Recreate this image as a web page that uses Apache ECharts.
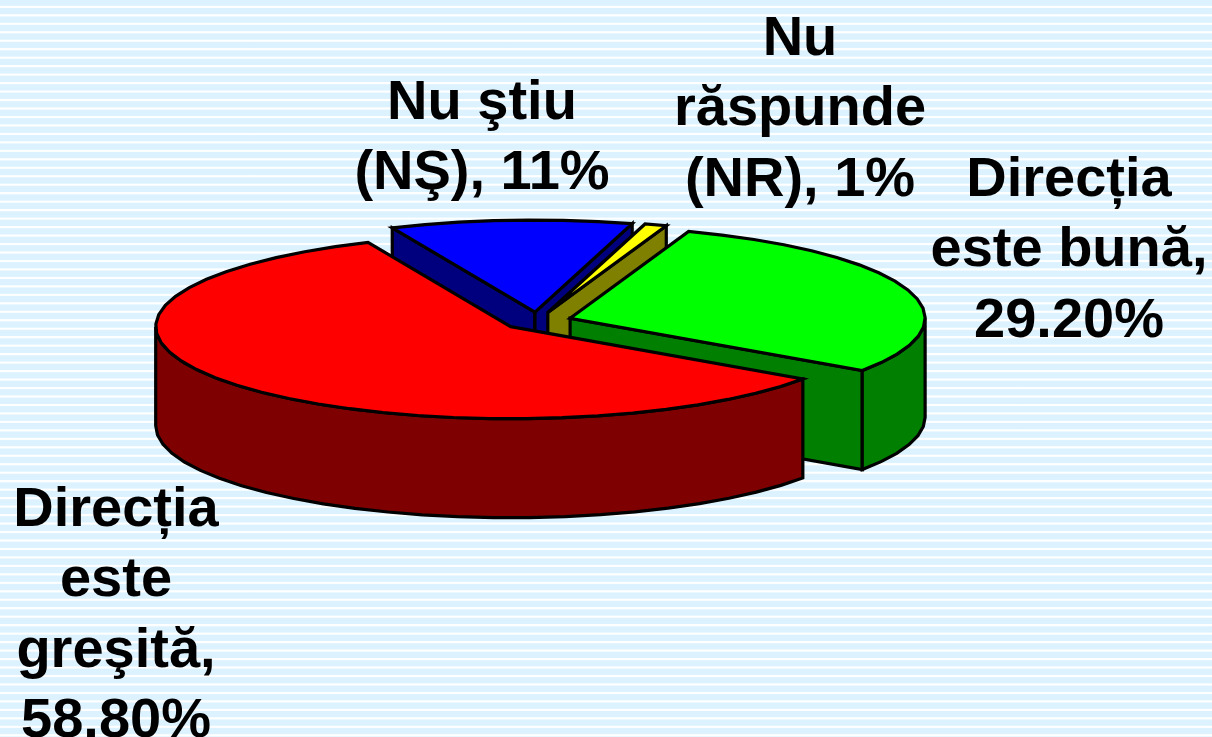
<!DOCTYPE html>
<html>
<head>
<meta charset="utf-8">
<style>
html,body{margin:0;padding:0;width:1212px;height:737px;overflow:hidden}
body{background-color:#DCF3FF;background-image:repeating-linear-gradient(180deg,#DCF3FF 0,#DCF3FF 5.4px,#FFFFFF 6.2px,#FFFFFF 7.4px,#DCF3FF 8.47px);}
#chart{width:1212px;height:737px}
</style>
<script src="https://cdn.jsdelivr.net/npm/echarts@6/dist/echarts.min.js"></script>
</head>
<body>
<div id="chart"></div>
<script>
var categories = ['Direcția este bună', 'Direcția este greşită', 'Nu ştiu (NŞ)', 'Nu răspunde (NR)'];
var values = [29.2, 58.8, 11, 1];
var topColors = ['#00FF00', '#FF0000', '#0000FF', '#FFFF00'];
var sideColors = ['#007F00', '#7F0000', '#00007F', '#7F7F00'];
var labelTexts = ['Direcția\neste bună,\n29.20%', 'Direcția\neste\ngreşită,\n58.80%', 'Nu ştiu\n(NŞ), 11%', 'Nu\nrăspunde\n(NR), 1%'];

var firstAngle = 19.5, CX = 537.3, CY = 321, RX = 355, RY = 92, DEPTH = 99, EXPLODE = 34.5;
var labelAnchors = [[1069, 145], [116, 475], [482, 68], [800, 4]];

var total = values.reduce(function (a, b) { return a + b; }, 0);
var rad = Math.PI / 180;
var cum = firstAngle;
var slices = values.map(function (v, i) {
  var s = cum, e = cum + v / total * 360;
  cum = e;
  var m = (s + e) / 2 * rad;
  return { idx: i, start: s, end: e,
    ax: CX + EXPLODE * Math.sin(m),
    ay: CY - EXPLODE * RY / RX * Math.cos(m) };
});
var drawOrder = slices.slice().sort(function (a, b) { return a.ay - b.ay; });

function rim(sl, a) {
  return [sl.ax + RX * Math.sin(a * rad), sl.ay - RY * Math.cos(a * rad)];
}
function arc(sl, a, b) {
  var n = Math.max(1, Math.ceil((b - a) / 6)), pts = [];
  for (var k = 0; k <= n; k++) pts.push(rim(sl, a + (b - a) * k / n));
  return pts;
}
function down(p) { return [p[0], p[1] + DEPTH]; }
function poly(points, fill) {
  return { type: 'polygon', shape: { points: points },
    style: { fill: fill, stroke: '#000', lineWidth: 3.2, lineJoin: 'miter' } };
}

function renderItem(params) {
  var sl = drawOrder[params.dataIndex];
  var top = topColors[sl.idx], side = sideColors[sl.idx];
  var apex = [sl.ax, sl.ay], kids = [];
  if (Math.sin(sl.start * rad) < 0) {
    var p = rim(sl, sl.start);
    kids.push(poly([apex, p, down(p), down(apex)], side));
  }
  if (Math.sin(sl.end * rad) > 0) {
    var q = rim(sl, sl.end);
    kids.push(poly([apex, q, down(q), down(apex)], side));
  }
  var a = Math.max(sl.start, 90), b = Math.min(sl.end, 270);
  if (b > a) {
    var upper = arc(sl, a, b);
    kids.push(poly(upper.concat(upper.map(down).reverse()), side));
  }
  kids.push(poly([apex].concat(arc(sl, sl.start, sl.end)), top));
  return { type: 'group', children: kids };
}

var chart = echarts.init(document.getElementById('chart'), null, { renderer: 'canvas' });
chart.setOption({
  backgroundColor: 'transparent',
  animation: false,
  series: [{
    type: 'custom',
    coordinateSystem: 'none',
    renderItem: renderItem,
    data: drawOrder.map(function (sl) { return { name: categories[sl.idx], value: values[sl.idx] }; }),
    silent: true
  }],
  graphic: labelTexts.map(function (t, i) {
    return { type: 'text', x: labelAnchors[i][0], y: labelAnchors[i][1], z: 10,
      style: { text: t, fill: '#000', font: 'bold 56px "Liberation Sans", Arial, sans-serif',
        lineHeight: 70.5, align: 'center', verticalAlign: 'top' } };
  })
});
</script>
</body>
</html>
